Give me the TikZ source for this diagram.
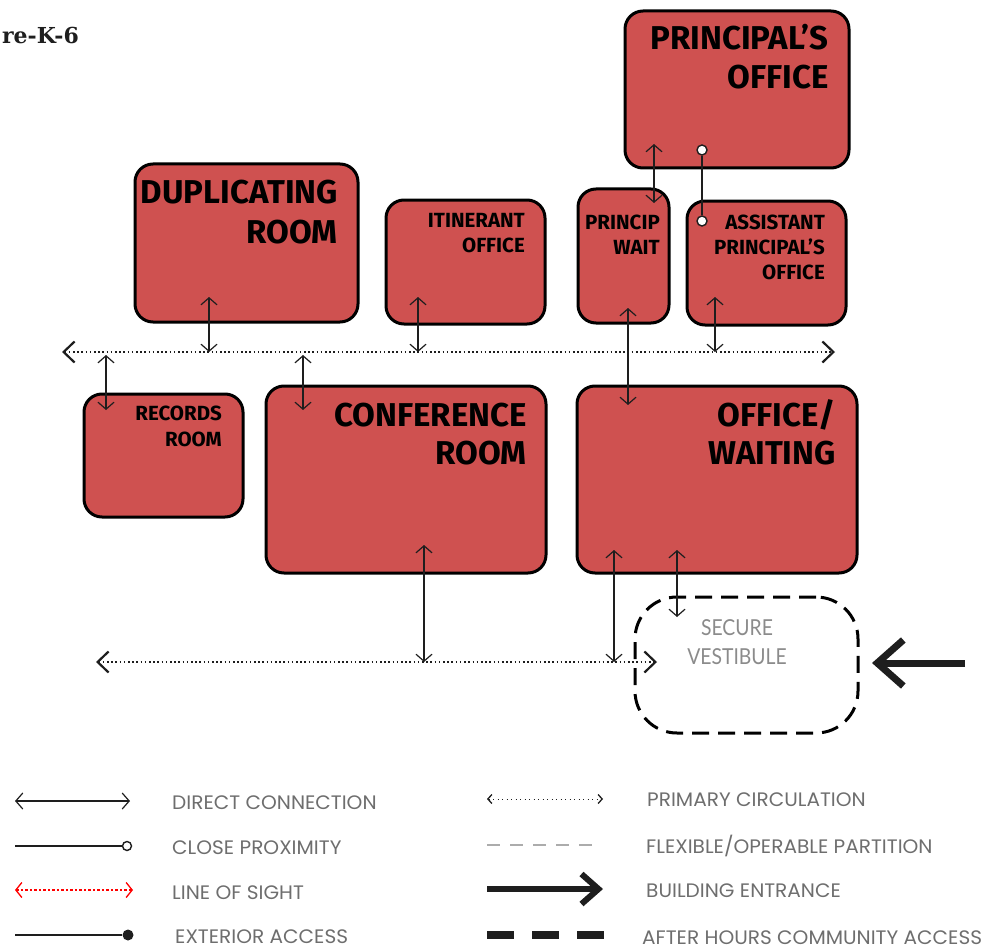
\documentclass[tikz,border=0pt]{standalone}
\usepackage{fontspec}
\usetikzlibrary{arrows.meta}
\newfontfamily\roomfont{Fira Sans}
\newfontfamily\legendfont{Poppins}[FakeStretch=1.03]
\newfontfamily\vestfont{Lato}[FakeStretch=0.88]
\newfontfamily\titlefont{DejaVu Serif}
\definecolor{roomred}{RGB}{207,81,80}
\definecolor{legendgray}{RGB}{110,110,110}
\definecolor{ink}{RGB}{30,30,30}
\tikzset{
  room/.style={draw=black, line width=3pt, fill=roomred, rounded corners=18pt,
    inner sep=0pt, anchor=north west},
  biglbl/.style={anchor=base east, inner sep=0pt, text=black,
    font=\roomfont\bfseries\fontsize{33}{39}\selectfont},
  smalllbl/.style={anchor=base east, inner sep=0pt, text=black,
    font=\roomfont\bfseries\fontsize{20.5}{25}\selectfont},
  direct/.style={draw=ink, line width=1.2pt,
    {Straight Barb[length=7pt,width=16pt]}-{Straight Barb[length=7pt,width=16pt]}},
  circulation/.style={draw=ink, line width=1.6pt, dash pattern=on 1.6pt off 2.6pt,
    {Straight Barb[length=11pt,width=21pt,line width=2.2pt]}-{Straight Barb[length=11pt,width=21pt,line width=2.2pt]}},
  proximity/.style={draw=ink, line width=2.6pt},
  openend/.style={circle, draw=ink, fill=white, line width=1.4pt, inner sep=0pt, minimum size=10pt},
  entrance/.style={draw=ink, line width=7pt,
    -{Straight Barb[length=26pt,width=46pt]}},
  vestibule/.style={draw=black, line width=3pt, dash pattern=on 17pt off 9pt,
    rounded corners=42pt, fill=none, inner sep=0pt, anchor=north west},
  legtext/.style={anchor=base west, inner sep=0pt, text=legendgray,
    font=\legendfont\fontsize{19.5}{19.5}\selectfont},
  vesttext/.style={inner sep=0pt, text=legendgray!80, anchor=base,
    font=\vestfont\fontsize{22}{22}\selectfont},
}
\begin{document}
\begin{tikzpicture}[x=1pt,y=-1pt]
\useasboundingbox (0,0) rectangle (987,952);

% heading
\node[anchor=base east, inner sep=0pt, text=ink,
  font=\titlefont\bfseries\fontsize{22}{22}\selectfont] (title) at (79,44) {re-K-6};

% rooms
\node[room, minimum width=224pt, minimum height=157pt] (po)   at (623.5,9.5) {};
\node[room, minimum width=223pt, minimum height=158pt] (dup)  at (133.5,162.5) {};
\node[room, minimum width=159pt, minimum height=124pt] (itin) at (384.5,198.5) {};
\node[room, minimum width=91pt,  minimum height=134pt] (pw)   at (576.5,187.5) {};
\node[room, minimum width=159pt, minimum height=124pt] (ap)   at (685.5,199.5) {};
\node[room, minimum width=159pt, minimum height=123pt] (rec)  at (82.5,392.5) {};
\node[room, minimum width=280pt, minimum height=187pt] (conf) at (264.5,384.5) {};
\node[room, minimum width=280pt, minimum height=187pt] (ow)   at (575.5,384.5) {};
\node[vestibule, minimum width=223pt, minimum height=136pt] (vest) at (633.5,595.5) {};

% room labels
\node[biglbl] (po1) at (829,50) {PRINCIPAL’S};
\node[biglbl] (po2) at (829,89) {OFFICE};
\node[biglbl] (dup1) at (338,204) {DUPLICATING};
\node[biglbl] (dup2) at (338,243) {ROOM};
\node[smalllbl] (itin1) at (525,227) {ITINERANT};
\node[smalllbl] (itin2) at (525,252) {OFFICE};
\node[smalllbl] (pw1) at (660,229) {PRINCIP};
\node[smalllbl] (pw2) at (660,254) {WAIT};
\node[smalllbl] (ap1) at (825,229) {ASSISTANT};
\node[smalllbl] (ap2) at (825,254) {PRINCIPAL’S};
\node[smalllbl] (ap3) at (825,279) {OFFICE};
\node[smalllbl] (rec1) at (222,420) {RECORDS};
\node[smalllbl] (rec2) at (222,446) {ROOM};
\node[biglbl] (conf1) at (527,426) {CONFERENCE};
\node[biglbl] (conf2) at (527,464) {ROOM};
\node[biglbl] (ow1) at (836,426) {OFFICE/};
\node[biglbl] (ow2) at (836,464) {WAITING};
\node[vesttext] (vest1) at (737,635) {SECURE};
\node[vesttext] (vest2) at (737,664) {VESTIBULE};

% circulation corridors
\coordinate (upW) at (62,352);
\coordinate (upE) at (835,352);
\coordinate (loW) at (96,662);
\coordinate (loE) at (657,662);
\draw[circulation] (upW) -- (upE);
\draw[circulation] (loW) -- (loE);

% connection end points
\coordinate (dupIn)  at (209,297);  \coordinate (dupOut)  at (209,352);
\coordinate (itinIn) at (418,297);  \coordinate (itinOut) at (418,352);
\coordinate (apIn)   at (715,297);  \coordinate (apOut)   at (715,352);
\coordinate (recTop) at (106,355);  \coordinate (recIn)   at (106,410);
\coordinate (confTop) at (303,355); \coordinate (confIn)  at (303,410);
\coordinate (pwIn)   at (628,308);  \coordinate (owTop)   at (628,405);
\coordinate (poIn)   at (654,144);  \coordinate (pwTop)   at (654,203);
\coordinate (confLo) at (424,545);  \coordinate (confOut) at (424,662);
\coordinate (owLo)   at (614,550);  \coordinate (owOut)   at (614,662);
\coordinate (owVest) at (677,550);  \coordinate (vestIn)  at (677,617);

% direct connections
\draw[direct] (dupIn) -- (dupOut);
\draw[direct] (itinIn) -- (itinOut);
\draw[direct] (apIn) -- (apOut);
\draw[direct] (recTop) -- (recIn);
\draw[direct] (confTop) -- (confIn);
\draw[direct] (pwIn) -- (owTop);
\draw[direct] (poIn) -- (pwTop);
\draw[direct] (confLo) -- (confOut);
\draw[direct] (owLo) -- (owOut);
\draw[direct] (owVest) -- (vestIn);

% close proximity: principal's office and assistant principal's office
\node[openend] (proxA) at (702,150) {};
\node[openend] (proxB) at (702,221) {};
\draw[proximity] (proxA) -- (proxB);

% building entrance
\coordinate (entOut) at (965,663);
\coordinate (entIn)  at (872,663);
\draw[entrance] (entOut) -- (entIn);

% legend, left column
\coordinate (lg1a) at (15,801);  \coordinate (lg1b) at (130,801);
\draw[direct] (lg1a) -- (lg1b);
\node[legtext] (lt1) at (172,809) {DIRECT CONNECTION};

\coordinate (lg2a) at (15,846);
\node[openend, minimum size=9pt] (lg2b) at (127,846) {};
\draw[proximity, line width=2.4pt] (lg2a) -- (lg2b);
\node[legtext] (lt2) at (172,854) {CLOSE PROXIMITY};

\coordinate (lg3a) at (15,890);  \coordinate (lg3b) at (133,890);
\draw[red, line width=1.3pt, dash pattern=on 2.5pt off 2pt,
  {Straight Barb[length=6pt,width=15pt]}-{Straight Barb[length=6pt,width=15pt]}] (lg3a) -- (lg3b);
\node[legtext] (lt3) at (172,899) {LINE OF SIGHT};

\coordinate (lg4a) at (15,935);
\node[circle, fill=ink, inner sep=0pt, minimum size=11pt] (lg4b) at (128,935) {};
\draw[ink, line width=2.4pt] (lg4a) -- (lg4b);
\node[legtext] (lt4) at (175,943) {EXTERIOR ACCESS};

% legend, right column
\coordinate (lg5a) at (487,799);  \coordinate (lg5b) at (603,799);
\draw[ink, line width=1pt, dash pattern=on 1.2pt off 3.3pt,
  {Straight Barb[length=4pt,width=9pt,line width=1.3pt]}-{Straight Barb[length=4pt,width=9pt,line width=1.3pt]}] (lg5a) -- (lg5b);
\node[legtext] (lt5) at (647,806) {PRIMARY CIRCULATION};

\coordinate (lg6a) at (487,845);  \coordinate (lg6b) at (600,845);
\draw[gray!65, line width=1.3pt, dash pattern=on 13pt off 10pt] (lg6a) -- (lg6b);
\node[legtext] (lt6) at (646,853) {FLEXIBLE/OPERABLE PARTITION};

\coordinate (lg7a) at (487,889);  \coordinate (lg7b) at (603,889);
\draw[ink, line width=6pt, -{Straight Barb[length=17pt,width=30pt]}] (lg7a) -- (lg7b);
\node[legtext] (lt7) at (646,897) {BUILDING ENTRANCE};

\coordinate (lg8a) at (487,935);  \coordinate (lg8b) at (605,935);
\draw[ink, line width=8pt, dash pattern=on 27pt off 18pt] (lg8a) -- (lg8b);
\node[legtext] (lt8) at (642,944) {AFTER HOURS COMMUNITY ACCESS};
\end{tikzpicture}
\end{document}
